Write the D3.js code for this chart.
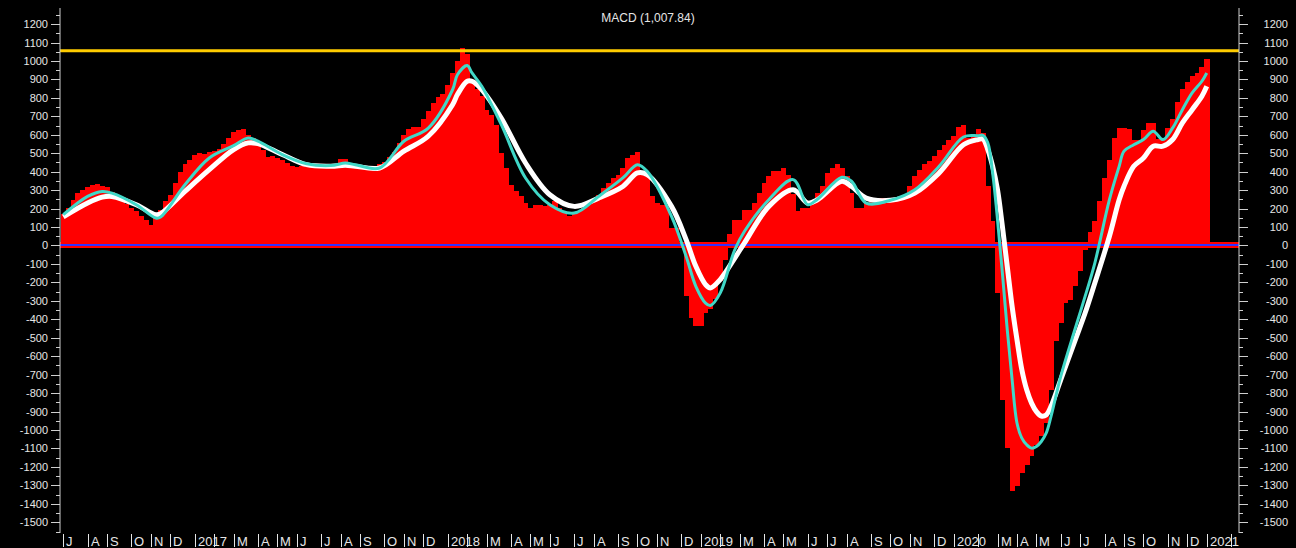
<!DOCTYPE html>
<html>
<head>
<meta charset="utf-8">
<script src="https://cdn.jsdelivr.net/npm/d3@7"></script>
<style>
  html, body { margin: 0; padding: 0; background: #000; }
  svg { display: block; }
  text { font-family: "Liberation Sans", Arial, sans-serif; fill: #e6e6e6; }
</style>
</head>
<body>
<svg id="chart" width="1296" height="548"></svg>
<script>
// Weekly MACD histogram, one value per Friday starting 1 Jul 2016
var firstWeek = new Date(2016, 6, 1);
var macdHist = [
  170, 203, 248, 284, 299, 317, 330, 335, 320, 317,
  288, 266, 244, 226, 203, 185, 158, 140, 113, 176,
  194, 239, 275, 338, 396, 443, 465, 488, 501, 496,
  505, 514, 523, 552, 583, 613, 628, 631, 601, 583,
  556, 520, 480, 484, 475, 465, 447, 433, 426, 430,
  426, 424, 420, 420, 422, 422, 422, 470, 470, 447,
  433, 430, 420, 418, 420, 443, 452, 480, 505, 556,
  597, 631, 642, 642, 686, 727, 773, 805, 821, 872,
  935, 998, 1070, 1040, 880, 850, 808, 736, 709, 655,
  502, 421, 330, 293, 266, 230, 203, 217, 217, 212,
  221, 239, 203, 185, 158, 176, 185, 203, 230, 251,
  275, 311, 338, 365, 383, 421, 475, 493, 505, 393,
  375, 266, 230, 221, 212, 95, 95, 17, -276, -393,
  -438, -438, -366, -345, -290, -190, -80, 60, 140, 140,
  194, 194, 230, 284, 338, 375, 402, 402, 421, 380,
  280, 185, 203, 203, 230, 284, 324, 393, 421, 443,
  421, 375, 284, 203, 203, 230, 240, 250, 255, 255,
  250, 248, 255, 275, 325, 378, 411, 443, 456, 484,
  520, 546, 570, 592, 642, 655, 583, 601, 631, 610,
  324, 132, -257, -836, -1098, -1333, -1306, -1233, -1188, -1143,
  -1080, -1035, -960, -782, -520, -420, -312, -294, -218, -140,
  -26, 71, 132, 239, 365, 461, 583, 637, 637, 631,
  574, 574, 624, 664, 664, 578, 574, 637, 686, 776,
  848, 886, 920, 935, 967, 1008
];

// Week numbers (from firstWeek) at which the two lines were read
var lineWeeks = [
  0, 5, 8, 10, 15, 19, 20, 25, 30, 35, 38, 40, 45, 50, 55, 58, 60, 65, 70, 75,
  80, 81, 83, 84, 86, 90, 95, 100, 105, 110, 115, 118, 120, 125, 128, 130, 132, 133, 135, 138,
  140, 145, 150, 153, 155, 160, 162, 165, 170, 175, 180, 185, 188, 189, 190, 191, 192, 193, 194, 195,
  196, 197, 198, 199, 200, 201, 202, 203, 205, 208, 210, 212, 215, 217, 218, 220, 222, 224, 226, 228,
  230, 232, 234, 235
];
var signalLine = [
  155, 230, 262, 266, 221, 167, 172, 293, 411, 520, 556, 552, 493, 438, 430, 435, 430, 420, 511, 592,
  763, 818, 890, 890, 845, 691, 447, 275, 212, 257, 320, 393, 384, 212, 32, -113, -212, -230, -185, -68,
  14, 212, 302, 230, 248, 348, 320, 257, 245, 284, 393, 546, 574, 577, 520, 429, 302, 104, -113, -330,
  -510, -673, -782, -854, -900, -924, -918, -872, -727, -510, -366, -203, 50, 248, 321, 429, 474, 538, 538, 574,
  664, 736, 809, 863
];
var macdLine = [
  167, 266, 293, 284, 221, 149, 154, 329, 474, 541, 583, 565, 493, 443, 433, 447, 438, 420, 565, 636,
  844, 925, 975, 935, 863, 656, 366, 221, 176, 266, 366, 438, 402, 158, -58, -221, -312, -325, -258, -23,
  77, 248, 357, 221, 251, 370, 348, 230, 245, 302, 429, 588, 595, 597, 556, 393, 140, -149, -456, -727,
  -962, -1044, -1080, -1098, -1089, -1062, -1017, -926, -709, -447, -276, -95, 248, 429, 511, 546, 574, 619, 574, 637,
  736, 827, 890, 935
];

var highLevel = 1055;
var yTickValues = d3.range(-1500, 1201, 100);
var yMinorValues = d3.range(-1550, 1251, 100);
var monthLabels = ["", "", "M", "A", "M", "J", "J", "A", "S", "O", "N", "D"]; // Jan shows the year, Feb label is hidden
var title = "MACD (1,007.84)";

// Layout
var width = 1296, height = 548;
var plot = { left: 60, right: 1239, top: 8, bottom: 533 };

var svg = d3.select("#chart");
svg.append("rect").attr("width", width).attr("height", height).attr("fill", "#000");

var weekDate = function (i) { return d3.timeDay.offset(firstWeek, 7 * i); };

// Scales
var x = d3.scaleTime()
  .domain([new Date(2016, 5, 26, 6), new Date(2021, 1, 16, 10)])
  .range([plot.left, plot.right]);
var y = d3.scaleLinear()
  .domain([-1558, 1287])
  .range([plot.bottom, plot.top]);

// Histogram bars
var bars = macdHist.map(function (v, i) { return { date: weekDate(i), value: v }; });
var bw = x(weekDate(1)) - x(weekDate(0));
svg.append("g").attr("class", "hist")
  .selectAll("rect").data(bars).enter().append("rect")
  .attr("x", function (d) { return x(d.date) - bw / 2; })
  .attr("width", bw + 0.4)
  .attr("y", function (d) { return y(Math.max(0, d.value)); })
  .attr("height", function (d) { return Math.abs(y(d.value) - y(0)); })
  .attr("fill", "#ff0000")
  .attr("shape-rendering", "crispEdges");

// Zero line: red band with a blue line inside
var y0 = Math.round(y(0));
svg.append("rect")
  .attr("x", plot.left).attr("width", plot.right - plot.left)
  .attr("y", y0 - 3).attr("height", 6)
  .attr("fill", "#ff0000")
  .attr("shape-rendering", "crispEdges");
svg.append("rect")
  .attr("x", plot.left).attr("width", plot.right - plot.left)
  .attr("y", y0 - 1).attr("height", 2)
  .attr("fill", "#3030ff")
  .attr("shape-rendering", "crispEdges");

// Highest level line
svg.append("line")
  .attr("x1", plot.left).attr("x2", plot.right)
  .attr("y1", y(highLevel)).attr("y2", y(highLevel))
  .attr("stroke", "#ffcc00").attr("stroke-width", 3);

// Signal (white) and MACD (turquoise) lines
var line = d3.line()
  .x(function (d) { return x(d.date); })
  .y(function (d) { return y(d.value); })
  .curve(d3.curveCatmullRom.alpha(0.5));

var toPoints = function (vals) {
  return vals.map(function (v, k) { return { date: weekDate(lineWeeks[k]), value: v }; });
};

svg.append("path").datum(toPoints(signalLine))
  .attr("d", line).attr("fill", "none")
  .attr("stroke", "#ffffff").attr("stroke-width", 5)
  .attr("stroke-linejoin", "round");
svg.append("path").datum(toPoints(macdLine))
  .attr("d", line).attr("fill", "none")
  .attr("stroke", "#40d8c8").attr("stroke-width", 3)
  .attr("stroke-linejoin", "round");

// Left and right value axes
var drawAxis = function (xPos, dir, anchor, labelX) {
  var g = svg.append("g").attr("class", "y-axis");
  g.append("line")
    .attr("x1", xPos).attr("x2", xPos).attr("y1", plot.top).attr("y2", plot.bottom)
    .attr("stroke", "#cfcfcf");
  g.selectAll("line.major").data(yTickValues).enter().append("line")
    .attr("class", "major")
    .attr("x1", xPos).attr("x2", xPos + dir * 9)
    .attr("y1", function (d) { return Math.round(y(d)) + 0.5; })
    .attr("y2", function (d) { return Math.round(y(d)) + 0.5; })
    .attr("stroke", "#cfcfcf");
  g.selectAll("line.minor").data(yMinorValues).enter().append("line")
    .attr("class", "minor")
    .attr("x1", xPos).attr("x2", xPos + dir * 4)
    .attr("y1", function (d) { return Math.round(y(d)) + 0.5; })
    .attr("y2", function (d) { return Math.round(y(d)) + 0.5; })
    .attr("stroke", "#cfcfcf");
  g.selectAll("text").data(yTickValues).enter().append("text")
    .attr("x", labelX)
    .attr("y", function (d) { return y(d) + 4; })
    .attr("text-anchor", anchor)
    .attr("font-size", 11)
    .text(function (d) { return d; });
};
drawAxis(plot.left, -1, "end", 48);
drawAxis(plot.right, 1, "end", 1288);

// Month ticks at the first weekly bar of each month
var months = d3.timeMonth.range(new Date(2016, 6, 1), new Date(2021, 2, 1));
var monthTicks = months.map(function (m) {
  return {
    date: d3.timeFriday.ceil(m),
    label: m.getMonth() === 0 ? String(m.getFullYear()) : monthLabels[m.getMonth()]
  };
});
var xg = svg.append("g").attr("class", "x-axis");
xg.selectAll("line").data(monthTicks).enter().append("line")
  .attr("x1", function (d) { return Math.round(x(d.date)) + 0.5; })
  .attr("x2", function (d) { return Math.round(x(d.date)) + 0.5; })
  .attr("y1", 534).attr("y2", 547)
  .attr("stroke", "#e6e6e6");
xg.selectAll("text").data(monthTicks).enter().append("text")
  .attr("x", function (d) { return Math.round(x(d.date)) + 3; })
  .attr("y", 546)
  .attr("font-size", 13)
  .text(function (d) { return d.label; });

// Title
svg.append("text")
  .attr("x", 648).attr("y", 22)
  .attr("text-anchor", "middle")
  .attr("font-size", 12)
  .text(title);
</script>
</body>
</html>
